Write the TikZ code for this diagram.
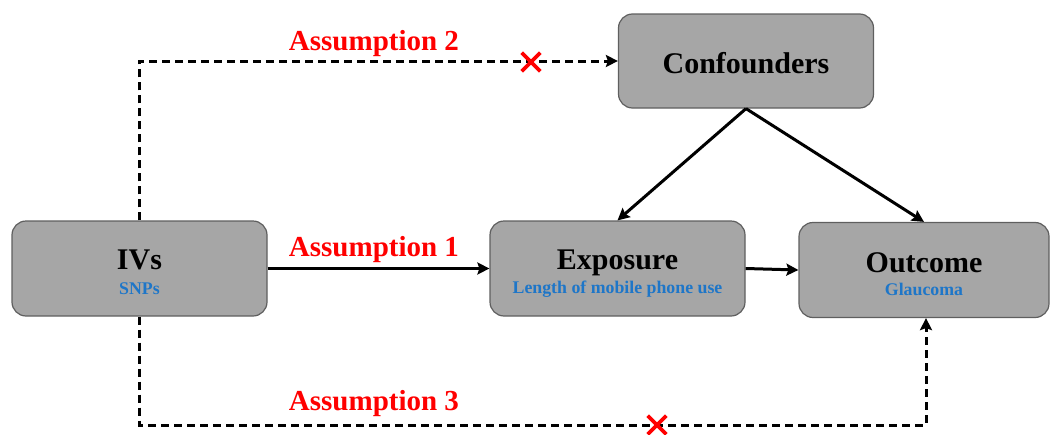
\documentclass[tikz,border=0pt]{standalone}
\usepackage{fontspec}
\setmainfont{Liberation Serif}
\usetikzlibrary{arrows.meta,shapes.misc}
\definecolor{boxgray}{RGB}{166,166,166}
\definecolor{boxline}{RGB}{95,95,95}
\definecolor{subblue}{RGB}{30,118,200}
\definecolor{asred}{RGB}{255,0,0}
\begin{document}
\begin{tikzpicture}[x=1pt,y=-1pt,
  box/.style={draw=boxline, fill=boxgray, rounded corners=14pt, line width=1.2pt, minimum width=255pt, minimum height=95pt, inner sep=0pt},
  title/.style={font=\fontsize{30}{34}\selectfont\bfseries, anchor=base, inner sep=0pt},
  sub/.style={font=\fontsize{17.8}{20}\selectfont\bfseries, text=subblue, anchor=base, inner sep=0pt},
  asm/.style={font=\fontsize{29}{33}\selectfont\bfseries, text=asred, anchor=base, inner sep=0pt},
  arr/.style={line width=3pt, -{Stealth[length=12pt,width=12pt,inset=2pt]}},
  dsh/.style={arr, dash pattern=on 8pt off 5pt},
  xmark/.style={cross out, draw=asred, line width=3.6pt, minimum size=15pt, inner sep=0pt}
]
\useasboundingbox (0,0) rectangle (1050,434);
\node[box] (ivs) at (139.5,268.5) {};
\node[box] (exp) at (617.5,268.5) {};
\node[box, minimum width=250pt] (out) at (924,270) {};
\node[box, minimum height=94pt] (conf) at (746,61) {};

\node[title] (ivsT) at (139.5,269) {IVs};
\node[sub] (ivsS) at (139.5,294) {SNPs};
\node[title] (expT) at (617.5,269) {Exposure};
\node[sub] (expS) at (617.5,293) {Length of mobile phone use};
\node[title] (outT) at (924,272) {Outcome};
\node[sub] (outS) at (924,295) {Glaucoma};
\node[title] (confT) at (746,73) {Confounders};

\node[asm] (a1) at (374,256) {Assumption 1};
\node[asm] (a2) at (374,50) {Assumption 2};
\node[asm] (a3) at (374,410) {Assumption 3};

\coordinate (c3) at (926,425);
\draw[arr] (ivs.east) -- (exp.west);
\draw[arr] (exp.east) -- (out.west);
\draw[arr] (conf.south) -- (exp.north);
\draw[arr] (conf.south) -- (out.north);
\draw[dsh] (ivs.north) |- (conf.west);
\draw[dsh] (ivs.south) |- (c3) -- (c3 |- out.south);

\node[xmark] (x2) at (531,62) {};
\node[xmark] (x3) at (657,425) {};
\end{tikzpicture}
\end{document}
